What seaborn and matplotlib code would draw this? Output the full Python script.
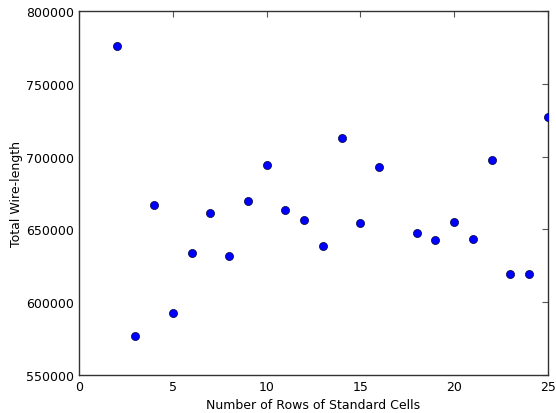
import matplotlib
matplotlib.use("Agg")
import matplotlib.pyplot as plt
import seaborn as sns
import pandas as pd

# Number of standard-cell rows and the resulting total wire-length
rows = [2, 3, 4, 5, 6, 7, 8, 9, 10, 11, 12, 13, 14, 15, 16,
        18, 19, 20, 21, 22, 23, 24, 25]
wire_length = [776000, 577000, 667000, 593000, 633700, 661200, 631600,
               669700, 694200, 663300, 656200, 638900, 712800, 654500,
               692600, 647300, 642600, 655100, 643200, 697700, 619700,
               619300, 727000]

x_ticks = [0, 5, 10, 15, 20, 25]
y_ticks = [550000, 600000, 650000, 700000, 750000, 800000]

sns.set_style("white")
plt.rcParams["font.family"] = ["DejaVu Sans"]
plt.rcParams["font.size"] = 9
plt.rcParams["text.color"] = "black"
plt.rcParams["axes.labelcolor"] = "black"
plt.rcParams["xtick.color"] = "black"
plt.rcParams["ytick.color"] = "black"

df = pd.DataFrame({"rows": rows, "wire": wire_length})

fig = plt.figure(figsize=(5.56, 4.14), dpi=100)
ax = fig.add_axes([0.1421, 0.0906, 0.8435, 0.8816])

sns.scatterplot(data=df, x="rows", y="wire", ax=ax, color="#0000ff",
                edgecolor="#000033", linewidth=0.5, s=34, zorder=3)

ax.set_xlim(0, 25)
ax.set_ylim(550000, 800000)
ax.set_xticks(x_ticks)
ax.set_yticks(y_ticks)
ax.set_xticklabels([str(t) for t in x_ticks])
ax.set_yticklabels([str(t) for t in y_ticks])
ax.tick_params(direction="in", length=4, width=0.8,
               top=True, right=True, labelsize=9, pad=3.5,
               labelcolor="black")
ax.tick_params(color="#555555")
for s in ax.spines.values():
    s.set_color("#333333")
    s.set_linewidth(1.0)

ax.set_xlabel("Number of Rows of Standard Cells", fontsize=9, labelpad=3.5)
ax.set_ylabel("Total Wire-length", fontsize=9, labelpad=2.5)

fig.savefig("out.png", dpi=100)
